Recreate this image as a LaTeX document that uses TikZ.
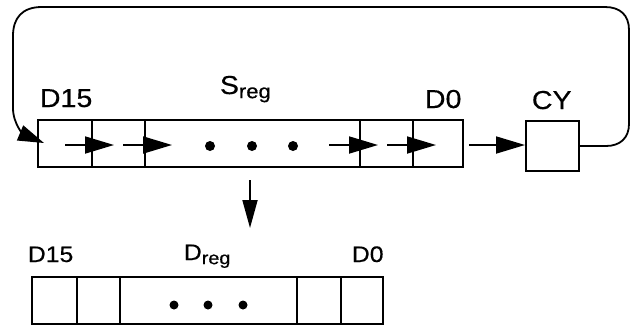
\documentclass[tikz,border=0pt]{standalone}
\usepackage{fontspec}
\setmainfont[FakeStretch=1.1,FakeBold=0.4]{Liberation Sans}
\usetikzlibrary{arrows.meta}
\begin{document}
\begin{tikzpicture}[x=1pt,y=-1pt,line width=1.8pt,
  cell/.style={draw,rectangle,inner sep=0pt,anchor=north west},
  big/.style={font=\fontsize{26}{26}\selectfont,inner sep=0pt},
  small/.style={font=\fontsize{22.5}{22.5}\selectfont,inner sep=0pt},
  tri/.style={-{Triangle[length=29pt,width=17pt]}},
  dot/.style={circle,fill,inner sep=0pt,minimum size=10pt}]
\useasboundingbox (0,0) rectangle (631,325);
% top register
\node[cell,minimum width=54pt,minimum height=47pt] (t1) at (37,119) {};
\node[cell,minimum width=53pt,minimum height=47pt] (t2) at (91,119) {};
\node[cell,minimum width=215pt,minimum height=47pt] (t3) at (144,119) {};
\node[cell,minimum width=53pt,minimum height=47pt] (t4) at (359,119) {};
\node[cell,minimum width=50pt,minimum height=47pt] (t5) at (412,119) {};
\node[cell,minimum width=53pt,minimum height=50pt] (cy) at (525,120) {};
\node[dot] (d1) at (210,146) {};
\node[dot] (d2) at (252,146) {};
\node[dot] (d3) at (293,146) {};
% labels top
\node[big,anchor=base west] (l15) at (39,107) {D15};
\node[big,anchor=base west] (ls) at (219,94) {S\raisebox{-0.3ex}{\fontsize{20}{20}\selectfont reg}};
\node[big,anchor=base west] (l0) at (424,108) {D0};
\node[big,anchor=base west] (lcy) at (531,109) {CY};
% inner arrows
\coordinate (a1s) at (65,145); \coordinate (a1e) at (114,145);
\coordinate (a2s) at (123,145); \coordinate (a2e) at (172,145);
\coordinate (a3s) at (329,145); \coordinate (a3e) at (378,145);
\coordinate (a4s) at (387,145); \coordinate (a4e) at (436,145);
\draw[tri] (a1s) -- (a1e);
\draw[tri] (a2s) -- (a2e);
\draw[tri] (a3s) -- (a3e);
\draw[tri] (a4s) -- (a4e);
\draw[tri] (t5.east |- 0,145) ++(5,0) -- (cy.west |- 0,145);
% loop
\coordinate (lt) at (44,143);
\draw[-{Triangle[length=26pt,width=16pt]}] (cy.east |- 0,146) -- (606,146)
  .. controls (620,146) and (629,138) .. (629,124) -- (629,30)
  .. controls (629,15) and (620,7) .. (605,7) -- (42,7)
  .. controls (22,7) and (13,18) .. (13,36) -- (13,108)
  .. controls (13,125) and (25,135) .. (lt);
% down arrow
\coordinate (ds) at (250,180); \coordinate (de) at (250,228);
\draw[-{Triangle[length=28pt,width=15pt]}] (ds) -- (de);
% bottom register
\node[cell,minimum width=45pt,minimum height=47pt] (b1) at (31,276) {};
\node[cell,minimum width=43pt,minimum height=47pt] (b2) at (76,276) {};
\node[cell,minimum width=177pt,minimum height=47pt] (b3) at (119,276) {};
\node[cell,minimum width=44pt,minimum height=47pt] (b4) at (296,276) {};
\node[cell,minimum width=42pt,minimum height=47pt] (b5) at (340,276) {};
\node[dot,minimum size=9pt] (e1) at (174,305) {};
\node[dot,minimum size=9pt] (e2) at (208,305) {};
\node[dot,minimum size=9pt] (e3) at (243,305) {};
\node[small,anchor=base west] (m15) at (27,262) {D15};
\node[small,anchor=base west] (md) at (183,260) {D\raisebox{-0.35ex}{\fontsize{18}{18}\selectfont reg}};
\node[small,anchor=base west] (m0) at (351,262) {D0};
\end{tikzpicture}
\end{document}
